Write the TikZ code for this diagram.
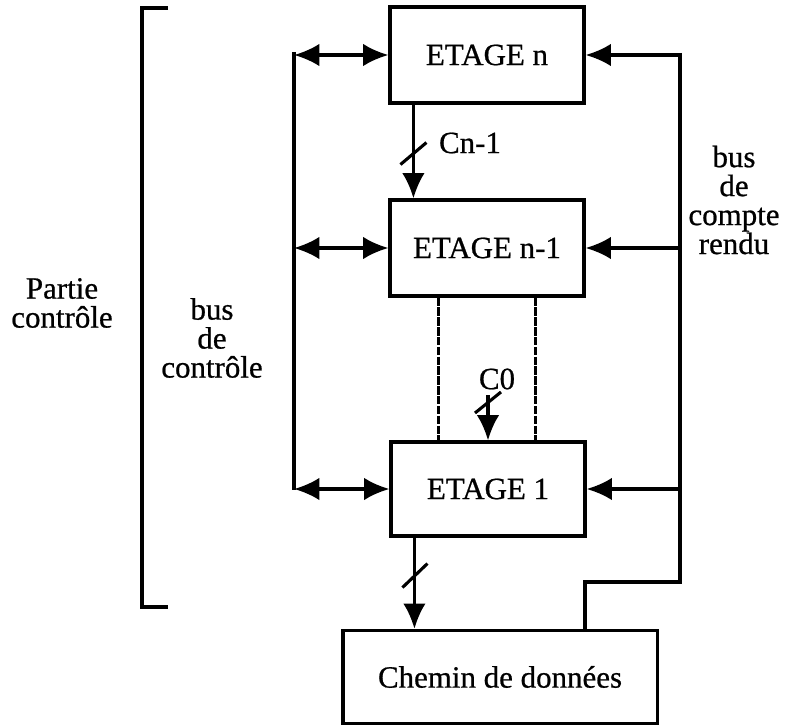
\documentclass[tikz,border=0pt]{standalone}
\usepackage{fontspec}
\setmainfont{Liberation Serif}[FakeBold=0.7]
\usetikzlibrary{
    positioning,
    arrows.meta,
    calc
}
\tikzset{
    > = {Latex[length=18pt, width=16pt]},
}

\begin{document}
\begin{tikzpicture}[x=0.025cm, y=-0.025cm, line width=2.2pt,
    every node/.style={font=\fontsize{22}{20.6}\selectfont},
    etage/.style={draw, minimum width=4.85cm, minimum height=2.4cm, inner sep=0pt},
    tirets/.style={dash pattern=on 6pt off 1pt}]
\useasboundingbox (0,0) rectangle (786,727);

% crochet
\draw (168,8) -- (142,8) -- (142,607) -- (168,607);

\node[etage] (etn) at (487,55) {ETAGE n};
\node[etage] (etn1) at (487,248) {ETAGE n-1};
\node[etage, minimum height=2.35cm] (et1) at (488,489) {ETAGE 1};
\node[draw, minimum width=7.85cm, minimum height=2.33cm] (chemin) at (500,677) {Chemin de données};

% bus de controle
\coordinate (bc1) at (294,52);
\coordinate (bc2) at (294,490);
\draw (bc1) -- (bc2);
\draw[<->] (etn.west -| bc1) -- (etn.west);
\draw[<->] (etn1.west -| bc1) -- (etn1.west);
\draw[<->] (et1.west -| bc1) -- (et1.west);

% bus de compte rendu
\coordinate (br1) at (680,53);
\coordinate (br2) at (680,582);
\coordinate (br3) at (585,582);
\draw (br1) -- (br2) -- (br3) -- (br3 |- chemin.north);
\draw[->] (etn.east -| br1) -- (etn.east);
\draw[->] (etn1.east -| br1) -- (etn1.east);
\draw[->] (et1.east -| br1) -- (et1.east);

% Cn-1
\coordinate (cn) at ($(etn.south west)+(25,0)$);
\draw[->] (cn) -- (cn |- etn1.north);
\draw ($(cn)+(-13,60)$) -- ++(26,-22);
\node (lcn) at (470,143) {Cn-1};

% etages intermediaires
\coordinate (t1) at ($(etn1.south west)+(50,0)$);
\coordinate (t2) at ($(etn1.south west)+(147,0)$);
\draw[tirets] (t1) -- (t1 |- et1.north);
\draw[tirets] (t2) -- (t2 |- et1.north);

% C0
\coordinate (c0) at (488,395);
\draw[->] (c0) -- (c0 |- et1.north);
\draw ($(c0)+(-13,18)$) -- ++(26,-21);
\node (lc0) at (497,379) {C0};

% vers chemin de donnees
\coordinate (cd) at ($(et1.south west)+(25,0)$);
\draw[->] (cd) -- (cd |- chemin.north);
\draw ($(cd)+(-12,50)$) -- ++(25,-24);

\node[align=center] (pc) at (62,303) {Partie\\contrôle};
\node[align=center] (lbc) at (212,338) {bus\\de\\contrôle};
\node[align=center] (lbr) at (734,200) {bus\\de\\compte\\rendu};
\end{tikzpicture}
\end{document}
